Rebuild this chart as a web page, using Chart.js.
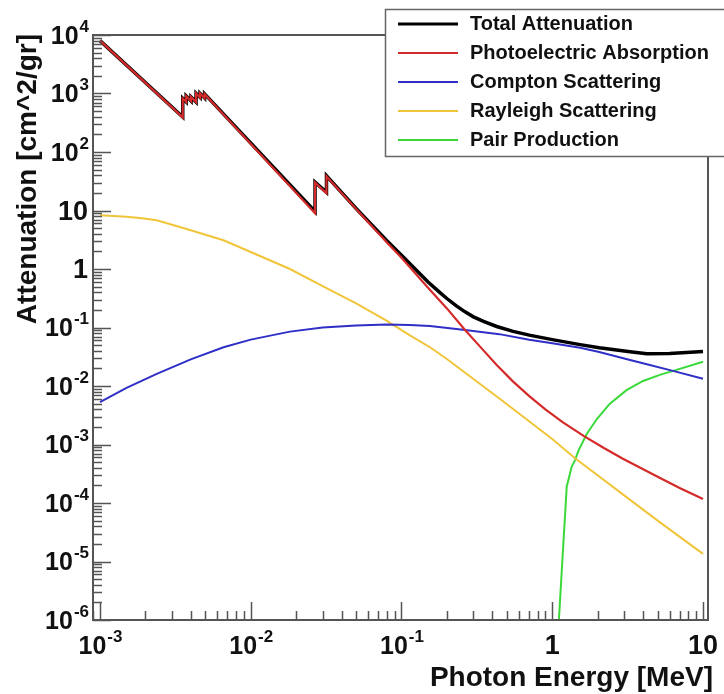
<!DOCTYPE html>
<html>
<head>
<meta charset="utf-8">
<script src="https://cdn.jsdelivr.net/npm/chart.js@4.4.0/dist/chart.umd.min.js"></script>
<style>
  html, body { margin: 0; padding: 0; background: #fff; }
  #wrap { width: 724px; height: 694px; }
</style>
</head>
<body>
<div id="wrap"><canvas id="c"></canvas></div>
<script>
// photon energy [MeV] vs attenuation [cm^2/gr]
const totalE = [0.001, 0.00354, 0.00354, 0.00373, 0.00373, 0.00402, 0.00402, 0.00434, 0.00434, 0.00461, 0.00461, 0.00494, 0.00494, 0.0267, 0.0267, 0.0318, 0.0318, 0.05, 0.08, 0.1, 0.15, 0.18, 0.2, 0.23, 0.264, 0.3, 0.35, 0.428, 0.55, 0.704, 1.0, 1.53, 2.05, 3.28, 4.24, 6.0, 10];
const totalV = [8010, 395, 825, 722, 905, 746, 875, 718, 1005, 860, 1005, 840, 985, 9.6, 30.5, 20.4, 39.2, 10.8, 3.05, 1.72, 0.6, 0.394, 0.313, 0.236, 0.185, 0.152, 0.127, 0.104, 0.086, 0.074, 0.062, 0.051, 0.045, 0.0385, 0.0355, 0.036, 0.039];

const photoE = [0.001, 0.00354, 0.00354, 0.00373, 0.00373, 0.00402, 0.00402, 0.00434, 0.00434, 0.00461, 0.00461, 0.00494, 0.00494, 0.0267, 0.0267, 0.0318, 0.0318, 0.05, 0.08, 0.1, 0.15, 0.2, 0.264, 0.332, 0.428, 0.55, 0.704, 0.9, 1.171, 1.624, 2.2, 2.92, 5.0, 7.0, 10];
const photoV = [8000, 390, 820, 716, 900, 741, 870, 713, 1000, 855, 1000, 835, 980, 9.0, 30, 19.7, 38.5, 10.6, 2.85, 1.55, 0.48, 0.212, 0.0906, 0.0471, 0.0229, 0.0119, 0.0067, 0.004, 0.00242, 0.00139, 0.00087, 0.000575, 0.00028, 0.000181, 0.000117];

const comptonE = [0.001, 0.0015, 0.00238, 0.004, 0.0066, 0.01, 0.0182, 0.03, 0.05, 0.08, 0.113, 0.1545, 0.264, 0.446, 0.704, 1.0, 1.53, 2.05, 3.28, 4.24, 6.5, 10];
const comptonV = [0.0053, 0.0093, 0.0161, 0.0285, 0.046, 0.062, 0.085, 0.1, 0.108, 0.112, 0.11, 0.106, 0.091, 0.077, 0.062, 0.054, 0.045, 0.038, 0.0278, 0.0236, 0.0178, 0.0133];

const rayleighE = [0.001, 0.0015, 0.0019, 0.00238, 0.004, 0.0066, 0.01, 0.0182, 0.03, 0.0504, 0.08, 0.113, 0.1545, 0.2, 0.446, 1.0, 1.416, 3.0, 5.0, 10];
const rayleighV = [8.3, 7.8, 7.4, 6.8, 4.6, 3.1, 1.95, 1.0, 0.51, 0.255, 0.13, 0.074, 0.046, 0.029, 0.0061, 0.00124, 0.00058, 0.000135, 0.00005, 0.0000135];

const pairE = [1.05, 1.247, 1.346, 1.416, 1.49, 1.69, 1.97, 2.41, 3.11, 4.0, 5.17, 6.5, 10];
const pairV = [1e-7, 1.9e-4, 4.2e-4, 5.4e-4, 7.8e-4, 1.5e-3, 2.7e-3, 5.0e-3, 8.5e-3, 0.0122, 0.0155, 0.0185, 0.026];

const seriesNames = ['Total Attenuation', 'Photoelectric Absorption', 'Compton Scattering', 'Rayleigh Scattering', 'Pair Production'];

// axis ticks and labels ([base, exponent])
const xTicks = [0.001, 0.01, 0.1, 1, 10];
const xTickLabels = [['10', '-3'], ['10', '-2'], ['10', '-1'], ['1', ''], ['10', '']];
const yTicks = [1e-6, 1e-5, 1e-4, 1e-3, 1e-2, 1e-1, 1, 10, 100, 1000, 10000];
const yTickLabels = [['10', '-6'], ['10', '-5'], ['10', '-4'], ['10', '-3'], ['10', '-2'], ['10', '-1'], ['1', ''], ['10', ''], ['10', '2'], ['10', '3'], ['10', '4']];

const FONT = '"Liberation Sans", Arial, Helvetica, sans-serif';

function pts(xs, ys) {
  return xs.map((x, i) => ({ x: x, y: ys[i] }));
}

// draws "10" with a raised exponent
function drawPow(ctx, base, exp, x, y, align) {
  const size = exp ? 25 : 27, expSize = 17;
  ctx.font = 'bold ' + size + 'px ' + FONT;
  const wb = ctx.measureText(base).width;
  ctx.font = 'bold ' + expSize + 'px ' + FONT;
  const we = exp ? ctx.measureText(exp).width : 0;
  const w = wb + we;
  const x0 = align === 'right' ? x - w : x - w / 2;
  ctx.textAlign = 'left';
  ctx.textBaseline = 'middle';
  ctx.font = 'bold ' + size + 'px ' + FONT;
  ctx.fillText(base, x0, y);
  if (exp) {
    ctx.font = 'bold ' + expSize + 'px ' + FONT;
    ctx.fillText(exp, x0 + wb + 1, y - 10);
  }
}

const rootAxes = {
  id: 'rootAxes',
  afterDraw(chart) {
    const ctx = chart.ctx, a = chart.chartArea;
    const xs = chart.scales.x, ys = chart.scales.y;
    ctx.save();
    ctx.strokeStyle = '#555';
    ctx.lineWidth = 1.5;
    ctx.beginPath();
    // x ticks, pointing inwards
    for (let k = -4; k <= 1; k++) {
      for (let m = 1; m <= 9; m++) {
        const v = m * Math.pow(10, k);
        if (v < xs.min || v > xs.max) continue;
        const px = Math.round(xs.getPixelForValue(v)) + 0.5;
        ctx.moveTo(px, a.bottom);
        ctx.lineTo(px, a.bottom - (m === 1 ? 18 : 9));
      }
    }
    // y ticks
    for (let k = -6; k <= 4; k++) {
      for (let m = 1; m <= 9; m++) {
        const v = m * Math.pow(10, k);
        if (v < ys.min * 0.999 || v > ys.max * 1.001) continue;
        const py = Math.round(ys.getPixelForValue(v)) + 0.5;
        ctx.moveTo(a.left, py);
        ctx.lineTo(a.left + (m === 1 ? 18 : 9), py);
      }
    }
    ctx.stroke();
    ctx.lineWidth = 2;
    ctx.strokeRect(a.left, a.top, a.right - a.left, a.bottom - a.top);

    ctx.fillStyle = '#111';
    xTicks.forEach((v, i) => {
      drawPow(ctx, xTickLabels[i][0], xTickLabels[i][1], xs.getPixelForValue(v), 647, 'center');
    });
    yTicks.forEach((v, i) => {
      drawPow(ctx, yTickLabels[i][0], yTickLabels[i][1], 88, ys.getPixelForValue(v) + 2, 'right');
    });

    // axis titles
    ctx.font = 'bold 28px ' + FONT;
    ctx.textAlign = 'right';
    ctx.textBaseline = 'alphabetic';
    ctx.fillText('Photon Energy [MeV]', 713, 686);
    ctx.translate(28, 34);
    ctx.rotate(-Math.PI / 2);
    ctx.textBaseline = 'middle';
    ctx.fillText('Attenuation [cm^2/gr]', 0, 0);
    ctx.restore();
  }
};

const legendBox = {
  id: 'legendBox',
  afterDraw(chart) {
    const ctx = chart.ctx;
    ctx.save();
    ctx.fillStyle = '#fff';
    ctx.fillRect(385, 9, 345, 147);
    ctx.strokeStyle = '#666';
    ctx.lineWidth = 1.5;
    ctx.strokeRect(385.5, 9.5, 345, 147);
    ctx.font = 'bold 20px ' + FONT;
    ctx.textAlign = 'left';
    ctx.textBaseline = 'middle';
    chart.data.datasets.forEach((ds, i) => {
      const y = 24 + i * 29;
      ctx.strokeStyle = ds.borderColor;
      ctx.lineWidth = i === 0 ? 3 : 2;
      ctx.beginPath();
      ctx.moveTo(398, y);
      ctx.lineTo(458, y);
      ctx.stroke();
      ctx.fillStyle = '#111';
      ctx.fillText(ds.label, 470, y);
    });
    ctx.restore();
  }
};

const colors = ['#000000', '#d42a2a', '#2f2fc8', '#f0c53a', '#3ad93a'];
const widths = [3.5, 2.2, 2, 2, 2];
const series = [pts(totalE, totalV), pts(photoE, photoV), pts(comptonE, comptonV), pts(rayleighE, rayleighV), pts(pairE, pairV)];

new Chart(document.getElementById('c'), {
  type: 'line',
  data: {
    datasets: series.map((d, i) => ({
      label: seriesNames[i],
      data: d,
      borderColor: colors[i],
      borderWidth: widths[i],
      pointRadius: 0,
      tension: 0,
      fill: false,
      order: i === 0 ? 1 : 0
    }))
  },
  options: {
    responsive: true,
    maintainAspectRatio: false,
    animation: false,
    events: [],
    layout: { padding: { left: 93, right: 16, top: 35, bottom: 74 } },
    plugins: { legend: { display: false }, tooltip: { enabled: false } },
    scales: {
      x: { type: 'logarithmic', display: false, min: 8.99e-4, max: 10.79, bounds: 'data' },
      y: { type: 'logarithmic', display: false, min: 1e-6, max: 1e4, bounds: 'data' }
    }
  },
  plugins: [rootAxes, legendBox]
});
</script>
</body>
</html>
